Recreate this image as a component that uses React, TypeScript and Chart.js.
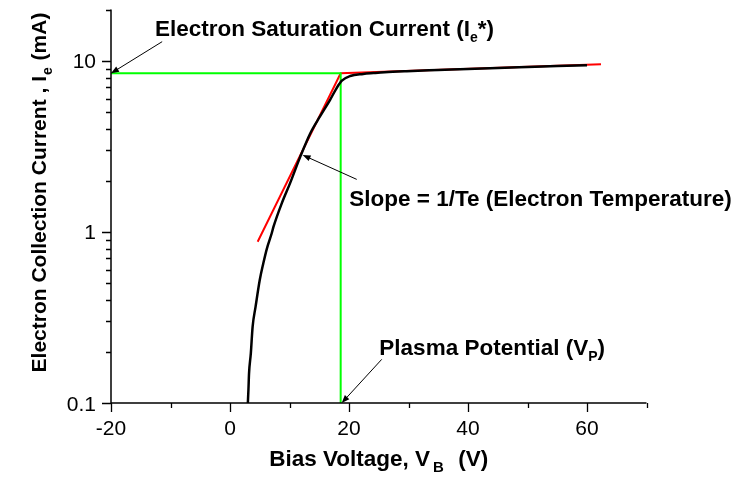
import React, { useEffect, useRef } from "react";
import { Chart, registerables } from "chart.js";

Chart.register(...registerables);

// Measured I-V curve (bias voltage in V, electron current in mA)
const biasVoltage = [3.0, 3.1, 3.2, 3.5, 3.8, 4.3, 5.0, 5.6, 6.2, 7.0, 7.3, 8.7, 10.1, 11.8, 13.5, 15.1, 16.8, 17.9, 18.8, 20.2, 22.4, 24.1, 26.0, 29.7, 35, 40, 45, 50, 55, 60];
const electronCurrent = [0.1, 0.12, 0.149, 0.195, 0.279, 0.366, 0.524, 0.656, 0.8, 0.98, 1.07, 1.47, 1.93, 2.75, 3.78, 4.72, 5.91, 6.92, 7.67, 8.17, 8.4, 8.5, 8.6, 8.72, 8.85, 8.97, 9.1, 9.22, 9.34, 9.45];

// Fitted straight lines (red)
const fitVoltage = [4.65, 18.6, 62.35];
const fitCurrent = [0.877, 8.47, 9.57];

// Saturation current / plasma potential guide (green)
const guideVoltage = [-20, 18.6, 18.6];
const guideCurrent = [8.47, 8.47, 0.1];

// Axis ticks
const xTickValues = [-20, -10, 0, 10, 20, 30, 40, 50, 60, 70];
const xTickLabels = [-20, 0, 20, 40, 60];
const yTickValues = [0.1, 0.2, 0.3, 0.4, 0.5, 0.6, 0.7, 0.8, 0.9, 1, 2, 3, 4, 5, 6, 7, 8, 9, 10, 20];
const yTickLabels = [0.1, 1, 10];

// Annotations (data coordinates)
const labelTexts = [
  [{ t: "Electron Saturation Current (I" }, { t: "e", sub: true }, { t: "*)" }],
  [{ t: "Slope = 1/Te (Electron Temperature)" }],
  [{ t: "Plasma Potential (V" }, { t: "P", sub: true }, { t: ")" }],
];
const labelX = [-12.6, 20.05, 25.1];
const labelY = [14.0, 1.42, 0.191];
const arrowFromX = [-11.4, 21.3, 25.5];
const arrowFromY = [12.97, 2.03, 0.18];
const arrowToX = [-20, 12.2, 18.77];
const arrowToY = [8.47, 2.82, 0.1];

const xTitle = [{ t: "Bias Voltage, V" }, { t: "B", sub: true }, { t: "  (V)" }];
const yTitle = [{ t: "Electron Collection Current , I" }, { t: "e", sub: true }, { t: " (mA)" }];

const FAMILY = "'Liberation Sans', Arial, Helvetica, sans-serif";
const TICK = 21;

type Part = { t: string; sub?: boolean };
type Style = { size: number; sub: number; dy: number; gapBefore: number; gapAfter: number };

const ANN: Style = { size: 22.5, sub: 14, dy: 6, gapBefore: 0, gapAfter: 0 };
const XT: Style = { size: 22.5, sub: 15, dy: 6, gapBefore: 3, gapAfter: 2 };
const YT: Style = { size: 21, sub: 14, dy: 6, gapBefore: 1, gapAfter: 1 };

function richWidth(ctx: CanvasRenderingContext2D, parts: Part[], st: Style) {
  let w = 0;
  for (const p of parts) {
    ctx.font = `bold ${p.sub ? st.sub : st.size}px ${FAMILY}`;
    w += ctx.measureText(p.t).width + (p.sub ? st.gapBefore + st.gapAfter : 0);
  }
  return w;
}

function drawRich(ctx: CanvasRenderingContext2D, parts: Part[], x: number, y: number, st: Style) {
  let cx = x;
  ctx.textBaseline = "alphabetic";
  ctx.textAlign = "left";
  for (const p of parts) {
    ctx.font = `bold ${p.sub ? st.sub : st.size}px ${FAMILY}`;
    if (p.sub) cx += st.gapBefore;
    ctx.fillText(p.t, cx, p.sub ? y + st.dy : y);
    cx += ctx.measureText(p.t).width;
    if (p.sub) cx += st.gapAfter;
  }
}

function drawArrow(ctx: CanvasRenderingContext2D, x1: number, y1: number, x2: number, y2: number) {
  const ang = Math.atan2(y2 - y1, x2 - x1);
  const len = 8;
  const wid = 3;
  ctx.strokeStyle = "#000";
  ctx.fillStyle = "#000";
  ctx.lineWidth = 1;
  ctx.beginPath();
  ctx.moveTo(x1, y1);
  ctx.lineTo(x2 - Math.cos(ang) * len * 0.6, y2 - Math.sin(ang) * len * 0.6);
  ctx.stroke();
  ctx.beginPath();
  ctx.moveTo(x2, y2);
  ctx.lineTo(x2 - Math.cos(ang) * len + Math.sin(ang) * wid, y2 - Math.sin(ang) * len - Math.cos(ang) * wid);
  ctx.lineTo(x2 - Math.cos(ang) * len - Math.sin(ang) * wid, y2 - Math.sin(ang) * len + Math.cos(ang) * wid);
  ctx.closePath();
  ctx.fill();
}

const decorPlugin = {
  id: "decor",
  afterDraw(chart: any) {
    const ctx: CanvasRenderingContext2D = chart.ctx;
    const xs = chart.scales.x;
    const ys = chart.scales.y;
    const { left, right, top, bottom } = chart.chartArea;
    ctx.save();
    // axis lines
    ctx.strokeStyle = "#000";
    ctx.lineWidth = 1.5;
    ctx.beginPath();
    ctx.moveTo(left, top);
    ctx.lineTo(left, bottom);
    ctx.lineTo(right, bottom);
    ctx.stroke();
    // ticks
    ctx.lineWidth = 1.3;
    ctx.beginPath();
    for (const v of xTickValues) {
      const px = Math.round(xs.getPixelForValue(v)) + 0.5;
      const len = xTickLabels.includes(v) ? 9 : 5;
      ctx.moveTo(px, bottom);
      ctx.lineTo(px, bottom + len);
    }
    for (const v of yTickValues) {
      const py = Math.round(ys.getPixelForValue(v)) + 0.5;
      const len = yTickLabels.includes(v) ? 9 : 5;
      ctx.moveTo(left, py);
      ctx.lineTo(left - len, py);
    }
    ctx.stroke();

    // tick labels
    ctx.fillStyle = "#000";
    ctx.font = `${TICK}px ${FAMILY}`;
    ctx.textBaseline = "alphabetic";
    ctx.textAlign = "center";
    for (const v of xTickLabels) {
      ctx.fillText(String(v), xs.getPixelForValue(v), bottom + 32);
    }
    ctx.textAlign = "right";
    for (const v of yTickLabels) {
      ctx.fillText(String(v), left - 15, ys.getPixelForValue(v) + 7.5);
    }

    // annotations
    for (let i = 0; i < labelTexts.length; i++) {
      drawRich(ctx, labelTexts[i] as Part[], xs.getPixelForValue(labelX[i]), ys.getPixelForValue(labelY[i]), ANN);
      drawArrow(
        ctx,
        xs.getPixelForValue(arrowFromX[i]),
        ys.getPixelForValue(arrowFromY[i]),
        xs.getPixelForValue(arrowToX[i]),
        ys.getPixelForValue(arrowToY[i])
      );
    }

    // axis titles
    ctx.fillStyle = "#000";
    const xw = richWidth(ctx, xTitle, XT);
    drawRich(ctx, xTitle, (left + right) / 2 - xw / 2, 466, XT);
    const yw = richWidth(ctx, yTitle, YT);
    ctx.save();
    ctx.translate(46, 192.5);
    ctx.rotate(-Math.PI / 2);
    drawRich(ctx, yTitle, -yw / 2, 0, YT);
    ctx.restore();
    ctx.restore();
  },
};

export default function App() {
  const ref = useRef<HTMLCanvasElement>(null);
  useEffect(() => {
    document.body.style.margin = "0";
    const canvas = ref.current!;
    const toPts = (xa: number[], ya: number[]) => xa.map((x, i) => ({ x, y: ya[i] }));
    const chart = new Chart(canvas, {
      type: "line",
      data: {
        datasets: [
          {
            data: toPts(biasVoltage, electronCurrent),
            borderColor: "#000",
            borderWidth: 2.5,
            pointRadius: 0,
            cubicInterpolationMode: "monotone",
          },
          {
            data: toPts(guideVoltage, guideCurrent),
            borderColor: "#00ff00",
            borderWidth: 2,
            pointRadius: 0,
            tension: 0,
          },
          {
            data: toPts(fitVoltage, fitCurrent),
            borderColor: "#ff0000",
            borderWidth: 2,
            pointRadius: 0,
            tension: 0,
          },
        ],
      } as any,
      options: {
        responsive: false,
        animation: false,
        devicePixelRatio: 1,
        layout: { padding: { left: 0, right: 109.5, top: 9.5, bottom: 0 } },
        plugins: { legend: { display: false }, tooltip: { enabled: false } },
        scales: {
          x: {
            type: "linear",
            min: -20,
            max: 70,
            afterFit: (s: any) => {
              s.height = 80;
            },
            afterBuildTicks: (s: any) => {
              s.ticks = xTickValues.map((v) => ({ value: v }));
            },
            ticks: { display: false },
            grid: { display: false },
            border: { display: false },
          },
          y: {
            type: "logarithmic",
            min: 0.1,
            max: 20,
            afterFit: (s: any) => {
              s.width = 111;
            },
            afterBuildTicks: (s: any) => {
              s.ticks = yTickValues.map((v) => ({ value: v }));
            },
            ticks: { display: false },
            grid: { display: false },
            border: { display: false },
          },
        },
      } as any,
      plugins: [decorPlugin],
    });
    return () => chart.destroy();
  }, []);
  return (
    <div style={{ position: "fixed", left: 0, top: 0, width: 756, height: 483, background: "#fff" }}>
      <canvas ref={ref} width={756} height={483} />
    </div>
  );
}
